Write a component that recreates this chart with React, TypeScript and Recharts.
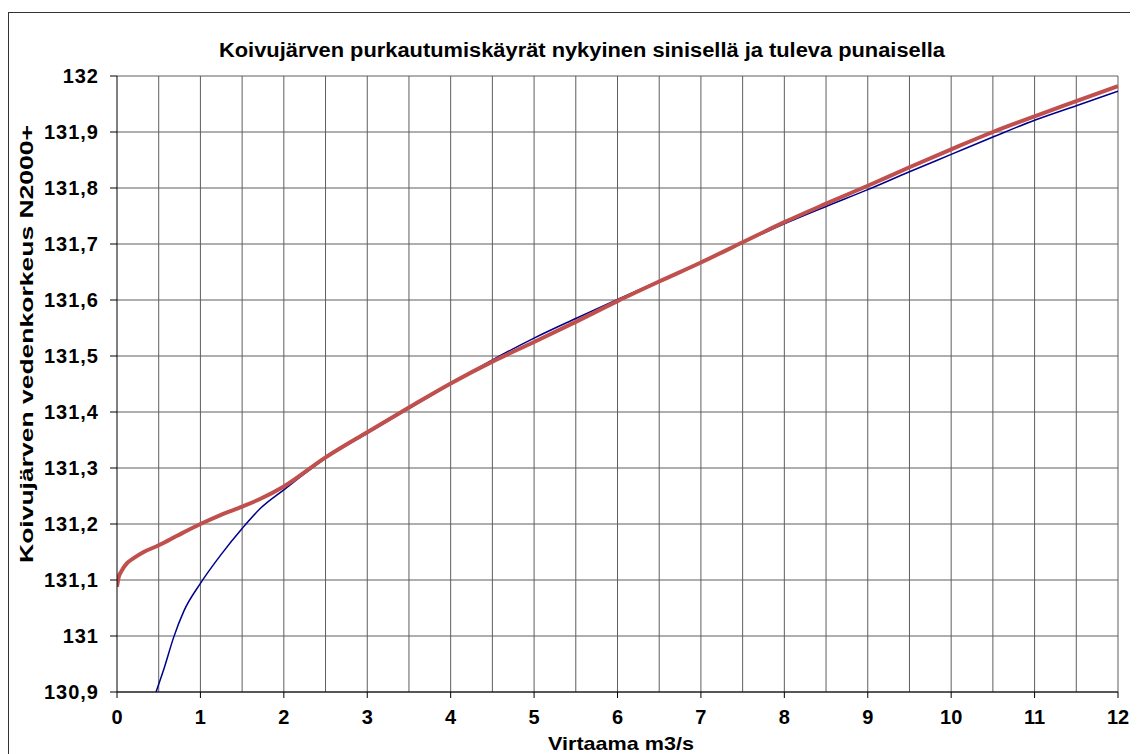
import { CartesianGrid, Label, Line, LineChart, ReferenceLine, XAxis, YAxis } from 'recharts';

// nykyinen (blue) purkautumiskäyrä
const FLOW_NOW = [0.468, 0.56, 0.68, 0.8, 1.0, 1.24, 1.5, 1.72, 2.0, 2.5, 3, 3.5, 4, 4.5, 5, 5.5, 6, 6.5, 7, 7.5, 8, 8.5, 9, 9.5, 10, 10.5, 11, 11.5, 12];
const LEVEL_NOW = [130.9, 130.94, 130.998, 131.044, 131.094, 131.144, 131.192, 131.228, 131.261, 131.317, 131.362, 131.406, 131.45, 131.493, 131.532, 131.567, 131.601, 131.634, 131.667, 131.702, 131.736, 131.767, 131.797, 131.829, 131.86, 131.891, 131.921, 131.947, 131.973];

// tuleva (red) purkautumiskäyrä
const FLOW_FUTURE = [0, 0.02, 0.05, 0.12, 0.2, 0.32, 0.5, 0.72, 1.0, 1.24, 1.5, 1.72, 2.0, 2.5, 3, 3.5, 4, 4.5, 5, 5.5, 6, 6.5, 7, 7.5, 8, 8.5, 9, 9.5, 10, 10.5, 11, 11.5, 12];
const LEVEL_FUTURE = [131.088, 131.105, 131.115, 131.13, 131.139, 131.15, 131.162, 131.179, 131.2, 131.216, 131.231, 131.245, 131.267, 131.319, 131.364, 131.408, 131.451, 131.49, 131.525, 131.561, 131.598, 131.633, 131.667, 131.703, 131.739, 131.772, 131.804, 131.837, 131.869, 131.9, 131.928, 131.955, 131.982];

const X_TICKS = [0, 1, 2, 3, 4, 5, 6, 7, 8, 9, 10, 11, 12];
const X_GRID = [0.5, 1, 1.5, 2, 2.5, 3, 3.5, 4, 4.5, 5, 5.5, 6, 6.5, 7, 7.5, 8, 8.5, 9, 9.5, 10, 10.5, 11, 11.5, 12];
const Y_TICKS = [130.9, 131, 131.1, 131.2, 131.3, 131.4, 131.5, 131.6, 131.7, 131.8, 131.9, 132];

const TITLE = 'Koivujärven purkautumiskäyrät nykyinen sinisellä ja tuleva punaisella';
const X_LABEL = 'Virtaama m3/s';
const Y_LABEL = 'Koivujärven vedenkorkeus N2000+';

const FONT = '"Liberation Sans", Arial, sans-serif';
const GRID = '#5e5e5e';

const nowData = FLOW_NOW.map((q, i) => ({ q, h: LEVEL_NOW[i] }));
const futureData = FLOW_FUTURE.map((q, i) => ({ q, h: LEVEL_FUTURE[i] }));

const fmtLevel = (v: number) => {
  const s = Number(v).toFixed(1);
  return (s.endsWith('.0') ? s.slice(0, -2) : s).replace('.', ',');
};

const tickStyle = { fill: '#000', fontSize: 20, fontWeight: 'bold', fontFamily: FONT };

function XTitle(props: any) {
  const { x, y, width } = props.viewBox;
  return (
    <text x={x + width / 2 + 3.5} y={y + 58} textAnchor="middle" fontFamily={FONT} fontWeight="bold" fontSize={19}
      textLength={146} lengthAdjust="spacingAndGlyphs" fill="#000">
      {X_LABEL}
    </text>
  );
}

function YTitle(props: any) {
  const { x, y, height } = props.viewBox;
  const cx = x + 24;
  const cy = y + height / 2 - 40;
  return (
    <text x={cx} y={cy} transform={`rotate(-90, ${cx}, ${cy})`} textAnchor="middle" fontFamily={FONT} fontWeight="bold"
      fontSize={19} textLength={438} lengthAdjust="spacingAndGlyphs" fill="#000">
      {Y_LABEL}
    </text>
  );
}

export default function App() {
  return (
    <div style={{ paddingTop: 4 }}>
      <style>{'body{overflow:hidden}'}</style>
      <div style={{ position: 'relative', width: 1129, height: 741, borderLeft: '1px solid #333', borderTop: '1px solid #333' }}>
        <svg width={1129} height={60} style={{ position: 'absolute', left: 0, top: 0 }}>
          <text x={573} y={44} textAnchor="middle" fontFamily={FONT} fontWeight="bold" fontSize={20}
            textLength={726} lengthAdjust="spacingAndGlyphs" fill="#000">
            {TITLE}
          </text>
        </svg>
        <LineChart width={1129} height={741} margin={{ top: 63, right: 20, bottom: 22, left: 0 }}>
          <CartesianGrid vertical={false} stroke={GRID} strokeWidth={1} />
          {X_GRID.map((v) => (
            <ReferenceLine key={v} x={v} stroke={GRID} strokeWidth={1} />
          ))}
          <XAxis dataKey="q" type="number" domain={[0, 12]} ticks={X_TICKS} allowDataOverflow height={40}
            tickSize={6} tickMargin={12} tick={tickStyle} stroke="#000" interval={0}>
            <Label content={XTitle} />
          </XAxis>
          <YAxis type="number" domain={[130.9, 132]} ticks={Y_TICKS} allowDataOverflow width={108}
            tickSize={7} tickMargin={11} tick={{ ...tickStyle, letterSpacing: 1 }} tickFormatter={fmtLevel} stroke="#000" interval={0}>
            <Label content={YTitle} />
          </YAxis>
          <Line data={nowData} dataKey="h" type="monotone" stroke="#00008b" strokeWidth={1.5} dot={false}
            isAnimationActive={false} />
          <Line data={futureData} dataKey="h" type="monotone" stroke="#c0504d" strokeWidth={4} dot={false}
            isAnimationActive={false} />
        </LineChart>
      </div>
    </div>
  );
}
